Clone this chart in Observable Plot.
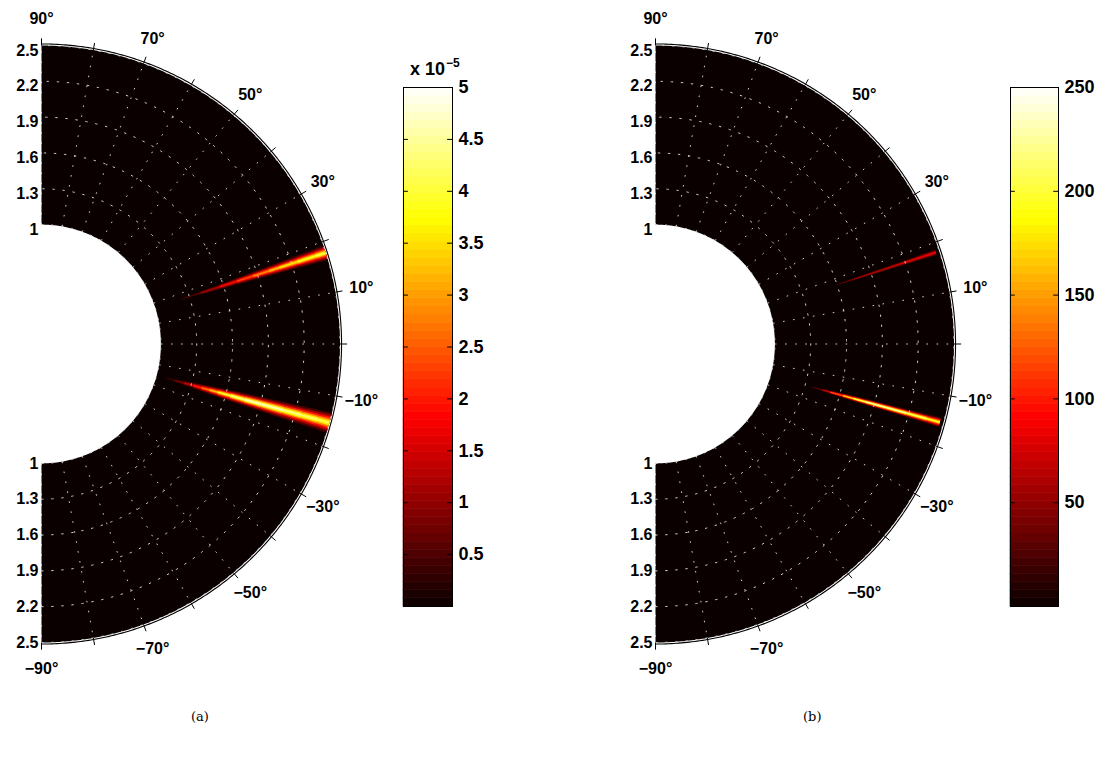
<!DOCTYPE html>
<html><head><meta charset="utf-8">
<script src="https://cdn.jsdelivr.net/npm/d3@7"></script>
<script src="https://cdn.jsdelivr.net/npm/@observablehq/plot@0.6"></script>
<style>
body{margin:0;background:#fff;}
#root{position:relative;width:1114px;height:770px;overflow:hidden;background:#fff;font-family:"Liberation Sans",Arial,sans-serif;}
#root svg{position:absolute;overflow:visible;background:transparent;}
.cap{position:absolute;font-family:"DejaVu Serif","Liberation Serif",serif;font-size:13px;color:#000;}
.exp{position:absolute;font-weight:bold;font-size:18px;color:#000;font-family:"Liberation Sans",Arial,sans-serif;}
.exp sup{font-size:12px;vertical-align:8px;margin-left:1px;}
</style></head><body><div id="root"></div>
<script>
// ---------- axis / tick data ----------
const radialTicks = [1, 1.3, 1.6, 1.9, 2.2, 2.5];
const gridRadii = [1, 1.3, 1.6, 1.9, 2.2, 2.5];
const angleTickMarks = [90,80,70,60,50,40,30,20,10,0,-10,-20,-30,-40,-50,-60,-70,-80,-90];
const spokeAngles = [90,80,70,60,50,40,30,20,10,0,-10,-20,-30,-40,-50,-60,-70,-80,-90];
const angleLabels = [90,70,50,30,10,-10,-30,-50,-70,-90];
const rMin = 1, rMax = 2.5;

// ---------- panel (a): beam values in units of 1e-5 ----------
const colorTicksA = [0.5,1,1.5,2,2.5,3,3.5,4,4.5,5];
const colorMaxA = 5;
const beamA1Angle = 17.8;
const beamA1R    = [1.23, 1.4, 1.57, 1.72, 1.86, 2.0, 2.09, 2.25, 2.41, 2.5];
const beamA1Peak = [0.3, 1.0, 1.8, 2.3, 2.8, 3.3, 3.6, 3.9, 4.2, 4.3];
const beamA1Half = [0.1, 0.6, 0.8, 0.95, 1.05, 1.15, 1.2, 1.3, 1.4, 1.45];
const beamA2Angle = -15.3;
const beamA2R    = [1.08, 1.16, 1.24, 1.32, 1.39, 1.46, 1.53, 1.64, 1.76, 1.91, 2.1, 2.26, 2.4, 2.5];
const beamA2Peak = [0.3, 0.7, 1.2, 1.9, 2.6, 3.2, 3.8, 4.4, 4.8, 5.0, 4.7, 4.5, 4.3, 4.2];
const beamA2Half = [0.2, 0.6, 0.9, 1.1, 1.25, 1.35, 1.45, 1.55, 1.65, 1.75, 1.85, 1.9, 1.95, 2.0];

// ---------- panel (b) ----------
const colorTicksB = [50,100,150,200,250];
const colorMaxB = 250;
const beamB1Angle = 18.1;
const beamB1R    = [1.6, 1.75, 1.9, 2.05, 2.18, 2.3, 2.47];
const beamB1Peak = [35, 60, 70, 72, 85, 92, 95];
const beamB1Half = [0.05, 0.3, 0.4, 0.45, 0.5, 0.55, 0.6];
const beamB2Angle = -15.4;
const beamB2R    = [1.36, 1.45, 1.52, 1.63, 1.72, 1.82, 2.0, 2.18, 2.36, 2.47];
const beamB2Peak = [25, 60, 100, 170, 215, 245, 252, 240, 215, 195];
const beamB2Half = [0.1, 0.4, 0.55, 0.65, 0.7, 0.75, 0.8, 0.85, 0.9, 0.95];

// beam cross-section (fraction of peak, fraction of half-width)
const profileLevel = [0.1, 0.25, 0.45, 0.65, 0.82, 0.95];
const profileWidth = [1, 0.8, 0.6, 0.42, 0.26, 0.12];

// ---------- helpers ----------
const rad = d => d * Math.PI / 180;
const P = (r, a) => ({x: r * Math.cos(rad(a)), y: r * Math.sin(rad(a))});
const hotStops = [0, 0.365, 0.746, 1];
const hotColors = ["#0b0000", "#ff0000", "#ffff00", "#ffffff"];
const FONT = "'Liberation Sans', Arial, sans-serif";

function beamPolys(angle, R, peak, half, tag) {
  const pts = [];
  profileLevel.forEach((f, k) => {
    for (let i = 0; i < R.length - 1; i++) {
      const id = `${tag}-${k}-${i}`;
      const v = f * (peak[i] + peak[i + 1]) / 2;
      const w0 = half[i] * profileWidth[k], w1 = half[i + 1] * profileWidth[k];
      [P(R[i], angle - w0), P(R[i + 1], angle - w1), P(R[i + 1], angle + w1), P(R[i], angle + w0)]
        .forEach(p => pts.push({...p, id, v}));
    }
  });
  return pts;
}

function arcPoints(r, id) {
  return d3.range(-90, 90.001, 0.5).map(a => ({...P(r, a), id}));
}

function polar(beams, cmax, tag) {
  const ring = [...d3.range(90, -90.001, -0.5).map(a => P(rMax, a)),
                ...d3.range(-90, 90.001, 0.5).map(a => P(rMin, a))];
  const polys = beams.flatMap((b, j) => beamPolys(...b, tag + j));
  const circles = gridRadii.flatMap(r => arcPoints(r, r));
  const dotted = {stroke: "#d0d0d0", strokeWidth: 1, strokeDasharray: "1.6,8.5"};
  const labelR = 2.72;
  const txt = {fill: "#000", fontWeight: "bold", fontSize: 16, fontFamily: FONT};
  return Plot.plot({
    width: 400, height: 690,
    marginLeft: 41, marginRight: 60.5, marginTop: 45, marginBottom: 48,
    x: {domain: [0, 2.5], axis: null},
    y: {domain: [-2.5, 2.5], axis: null},
    color: {type: "linear", domain: hotStops.map(t => t * cmax), range: hotColors, interpolate: "rgb", clamp: true},
    style: {fontFamily: FONT, fontWeight: "bold", fontSize: "16px", color: "#000", background: "transparent", overflow: "visible"},
    marks: [
      Plot.line(ring, {x: "x", y: "y", fill: hotColors[0], stroke: "none"}),
      Plot.line(polys, {x: "x", y: "y", z: "id", fill: "v", stroke: "none"}),
      Plot.line(circles, {x: "x", y: "y", z: "id", ...dotted}),
      Plot.link(spokeAngles, {x1: a => P(rMin, a).x, y1: a => P(rMin, a).y, x2: a => P(rMax, a).x, y2: a => P(rMax, a).y, ...dotted}),
      Plot.line(arcPoints(2.513, "edge"), {x: "x", y: "y", stroke: "#000", strokeWidth: 1.1}),
      Plot.link(angleTickMarks, {x1: a => P(2.5, a).x, y1: a => P(2.5, a).y, x2: a => P(2.56, a).x, y2: a => P(2.56, a).y, stroke: "#000", strokeWidth: 1}),
      Plot.text(angleLabels, {x: a => P(labelR, a).x, y: a => P(labelR, a).y, text: a => `${a < 0 ? "\u2212" + (-a) : a}°`, ...txt}),
      Plot.text(radialTicks, {x: 0, y: r => r, text: r => String(r), textAnchor: "end", dx: -3, dy: 5, ...txt}),
      Plot.text(radialTicks, {x: 0, y: r => -r, text: r => String(r), textAnchor: "end", dx: -3, ...txt})
    ]
  });
}

function colorbar(cmax, ticks, mL, mR, w) {
  const levels = d3.range(64);
  return Plot.plot({
    width: w, height: 690,
    marginLeft: mL, marginRight: mR, marginTop: 87, marginBottom: 84,
    x: {domain: [0, 1], axis: null},
    y: {domain: [0, cmax], axis: null},
    color: {type: "linear", domain: hotStops.map(t => t * cmax), range: hotColors, interpolate: "rgb", clamp: true},
    style: {fontFamily: FONT, fontWeight: "bold", fontSize: "18px", color: "#000", background: "transparent", overflow: "visible"},
    marks: [
      Plot.rect(levels, {x1: 0, x2: 1, y1: i => i / 64 * cmax, y2: i => (i + 1) / 64 * cmax, fill: i => (i + 0.5) / 64 * cmax, stroke: i => (i + 0.5) / 64 * cmax, strokeWidth: 0.6, inset: 0}),
      Plot.ruleY(ticks, {x1: 0, x2: 0.1, stroke: "#000"}),
      Plot.ruleY(ticks, {x1: 0.9, x2: 1, stroke: "#000"}),
      Plot.frame({stroke: "#000", strokeWidth: 1}),
      Plot.axisY(ticks, {anchor: "right", tickSize: 0, tickPadding: 6, tickFormat: d => String(d), fill: "#000", fontWeight: "bold", fontSize: 18, fontFamily: FONT})
    ]
  });
}

const root = document.getElementById("root");
function place(node, left, top) { node.style.left = left + "px"; node.style.top = top + "px"; root.appendChild(node); }

place(polar([[beamA1Angle, beamA1R, beamA1Peak, beamA1Half], [beamA2Angle, beamA2R, beamA2Peak, beamA2Half]], colorMaxA, "a"), 0, 0);
place(polar([[beamB1Angle, beamB1R, beamB1Peak, beamB1Half], [beamB2Angle, beamB2R, beamB2Peak, beamB2Half]], colorMaxB, "b"), 614, 0);
place(colorbar(colorMaxA, colorTicksA, 23, 48, 120), 380, 0);
place(colorbar(colorMaxB, colorTicksB, 25, 56, 129), 985, 0);

const exp = document.createElement("div");
exp.className = "exp"; exp.innerHTML = "x 10<sup>\u22125</sup>";
place(exp, 410, 56);
const capA = document.createElement("div"); capA.className = "cap"; capA.textContent = "(a)"; place(capA, 191, 709);
const capB = document.createElement("div"); capB.className = "cap"; capB.textContent = "(b)"; place(capB, 803, 709);
</script></body></html>
